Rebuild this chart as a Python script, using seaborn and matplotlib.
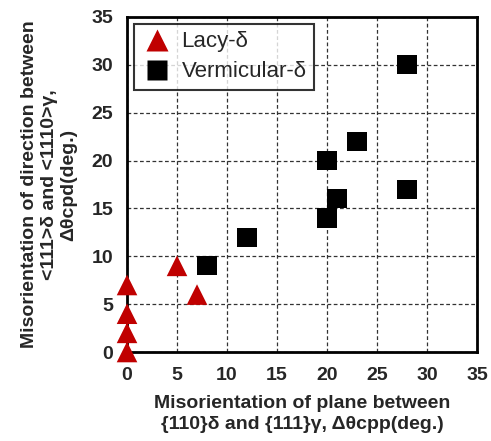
import pandas as pd
import matplotlib
matplotlib.use("Agg")
import matplotlib.pyplot as plt
from matplotlib.lines import Line2D
import seaborn as sns

# data
lacy_x = [0, 0, 0, 0, 5, 7]
lacy_y = [0, 2, 4, 7, 9, 6]
verm_x = [8, 12, 20, 20, 21, 23, 28, 28]
verm_y = [9, 12, 20, 14, 16, 22, 30, 17]
ticks = [0, 5, 10, 15, 20, 25, 30, 35]

lacy = pd.DataFrame({'x': lacy_x, 'y': lacy_y})
verm = pd.DataFrame({'x': verm_x, 'y': verm_y})

sns.set_style('white')
plt.rcParams['font.family'] = ['Liberation Sans', 'DejaVu Sans']

fig = plt.figure(figsize=(4.91, 4.41), dpi=100)
ax = fig.add_axes([0.2587, 0.2018, 0.7128, 0.7597])

red = '#C00000'
sns.scatterplot(data=lacy, x='x', y='y', marker='^', s=220, color=red,
                edgecolor='none', ax=ax, clip_on=False, zorder=5)
sns.scatterplot(data=verm, x='x', y='y', marker='s', s=190, color='black',
                edgecolor='none', ax=ax, clip_on=False, zorder=5)

ax.set_xlim(0, 35)
ax.set_ylim(0, 35)
ax.set_xticks(ticks)
ax.set_yticks(ticks)
ax.grid(True, linestyle=(0, (3, 2)), color='#333333', linewidth=0.9)
for s in ax.spines.values():
    s.set_linewidth(2)
    s.set_color('black')
ax.tick_params(length=0, labelsize=14)
ax.tick_params(axis='x', pad=11)
ax.tick_params(axis='y', pad=10)
for t in ax.get_xticklabels() + ax.get_yticklabels():
    t.set_fontweight('bold')

ax.set_xlabel('Misorientation of plane between\n{110}δ and {111}γ, Δθcpp(deg.)',
              fontsize=14, fontweight='bold', labelpad=8, linespacing=1.3)
ax.set_ylabel('Misorientation of direction between\n<111>δ and <1110>γ,\nΔθcpd(deg.)',
              fontsize=14, fontweight='bold', labelpad=10, linespacing=1.2)

handles = [
    Line2D([], [], linestyle='none', marker='^', markersize=16.5,
           markerfacecolor=red, markeredgecolor='none', label='Lacy-δ'),
    Line2D([], [], linestyle='none', marker='s', markersize=15,
           markerfacecolor='black', markeredgecolor='none', label='Vermicular-δ'),
]
leg = ax.legend(handles=handles, loc='upper left', fontsize=16, frameon=True,
                fancybox=False, borderaxespad=0.3, handletextpad=0.4,
                borderpad=0.35, labelspacing=0.4, handlelength=1.4)
leg.get_frame().set_edgecolor('black')
leg.get_frame().set_linewidth(1.5)

fig.savefig('out.png', dpi=100)
